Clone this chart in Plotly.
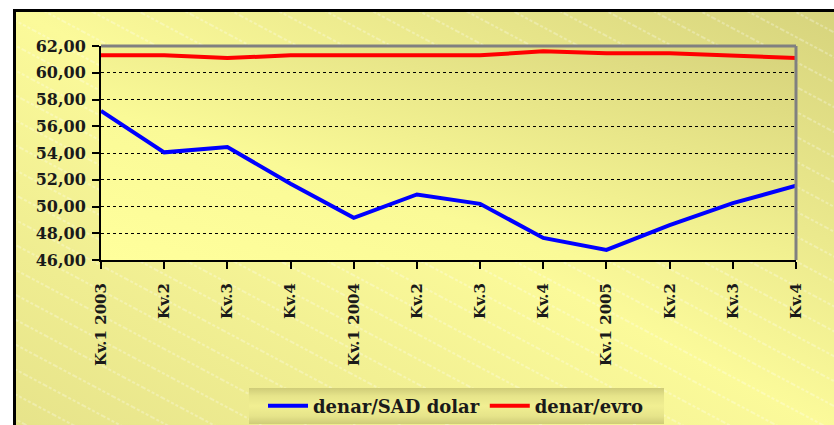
import base64
import plotly.graph_objects as go

# Quarterly exchange rates of the denar
quarters = ["Kv.1 2003", "Kv.2", "Kv.3", "Kv.4",
            "Kv.1 2004", "Kv.2", "Kv.3", "Kv.4",
            "Kv.1 2005", "Kv.2", "Kv.3", "Kv.4"]
usd_rate = [57.15, 54.05, 54.45, 51.70, 49.15, 50.90, 50.20, 47.65, 46.75, 48.60, 50.25, 51.55]
eur_rate = [61.30, 61.30, 61.10, 61.30, 61.30, 61.30, 61.30, 61.60, 61.45, 61.45, 61.30, 61.10]
series_names = ["denar/SAD dolar", "denar/evro"]
y_ticks = [46, 48, 50, 52, 54, 56, 58, 60, 62]

W, H = 834, 425
L, R, T, B = 101, 38, 46, 165
PW, PH = W - L - R, H - T - B

# Background artwork: framed chart area, plot-area gradient and legend band
svg = f"""<svg xmlns='http://www.w3.org/2000/svg' width='{W}' height='{H}' viewBox='0 0 {W} {H}'>
<defs>
<linearGradient id='outer' x1='1' y1='0' x2='0' y2='1'>
<stop offset='0' stop-color='#d6d37c'/>
<stop offset='0.5' stop-color='#fbfa9a'/>
<stop offset='1' stop-color='#e6e38a'/>
</linearGradient>
<linearGradient id='inner' x1='0' y1='1' x2='1' y2='0'>
<stop offset='0' stop-color='#ffff9c'/>
<stop offset='0.35' stop-color='#fafa97'/>
<stop offset='1' stop-color='#d6d27b'/>
</linearGradient>
<linearGradient id='leg' x1='0' y1='0' x2='0' y2='1'>
<stop offset='0' stop-color='#cfcc78'/>
<stop offset='0.22' stop-color='#e6e48a'/>
<stop offset='0.5' stop-color='#f1ef92'/>
<stop offset='0.78' stop-color='#e6e48a'/>
<stop offset='1' stop-color='#cfcc78'/>
</linearGradient>
<pattern id='hatch' width='22' height='22' patternUnits='userSpaceOnUse' patternTransform='rotate(28)'>
<line x1='0' y1='11' x2='22' y2='11' stroke='white' stroke-opacity='0.55' stroke-width='1' stroke-dasharray='3 2'/>
</pattern>
</defs>
<rect x='0' y='0' width='{W}' height='{H}' fill='white'/>
<rect x='14.5' y='10.5' width='{W}' height='{H}' fill='url(#outer)'/>
<rect x='14.5' y='10.5' width='{W}' height='{H}' fill='url(#hatch)'/>
<rect x='14.5' y='10.5' width='{W}' height='{H}' fill='none' stroke='black' stroke-width='3'/>
<rect x='{L}' y='{T}' width='{PW}' height='{PH}' fill='url(#inner)'/>
<rect x='249' y='388' width='415' height='36' fill='url(#leg)'/>
</svg>"""
bg_src = "data:image/svg+xml;base64," + base64.b64encode(svg.encode()).decode()

x_pos = list(range(len(quarters)))

fig = go.Figure()
fig.add_trace(go.Scatter(x=x_pos, y=usd_rate, mode="lines", name=series_names[0],
                         line=dict(color="#0000ff", width=4)))
fig.add_trace(go.Scatter(x=x_pos, y=eur_rate, mode="lines", name=series_names[1],
                         line=dict(color="#ff0000", width=4)))

tick_font = dict(family="DejaVu Serif", size=16, color="#1a1a1a", weight="bold")

fig.update_layout(
    width=W, height=H,
    margin=dict(l=L, r=R, t=T, b=B, pad=0, autoexpand=False),
    paper_bgcolor="white",
    plot_bgcolor="rgba(0,0,0,0)",
    separators=",.",
    images=[dict(source=bg_src, xref="paper", yref="paper",
                 x=-L / PW, y=1 + T / PH, sizex=W / PW, sizey=H / PH,
                 xanchor="left", yanchor="top", sizing="stretch", layer="below")],
    xaxis=dict(range=[0, len(quarters) - 1], tickmode="array", tickvals=x_pos,
               ticktext=quarters, tickangle=-90, tickfont=dict(tick_font, size=15),
               ticks="outside", ticklen=7, tickwidth=2, tickcolor="black",
               ticklabelstandoff=8,
               showline=True, linecolor="black", linewidth=2,
               showgrid=False, zeroline=False, fixedrange=True, automargin=False),
    yaxis=dict(range=[y_ticks[0], y_ticks[-1]], tickmode="array", tickvals=y_ticks,
               tickformat=".2f", tickfont=tick_font,
               ticks="outside", ticklen=7, tickwidth=2, tickcolor="black",
               ticklabelstandoff=3,
               showline=True, linecolor="black", linewidth=2,
               showgrid=True, gridcolor="black", gridwidth=1, griddash="dot",
               zeroline=False, fixedrange=True, automargin=False),
    shapes=[
        dict(type="line", xref="paper", yref="paper", x0=0, x1=1, y0=1, y1=1,
             line=dict(color="#808080", width=3), layer="above"),
        dict(type="line", xref="paper", yref="paper", x0=1, x1=1, y0=0, y1=1,
             line=dict(color="#808080", width=3), layer="above"),
    ],
    legend=dict(orientation="h", xref="container", yref="container",
                x=456 / W, xanchor="center", y=1 - 406 / H, yanchor="middle",
                bgcolor="rgba(0,0,0,0)", font=dict(tick_font, size=18),
                itemwidth=40, tracegroupgap=0),
    showlegend=True,
)

fig.write_html("out.html")
